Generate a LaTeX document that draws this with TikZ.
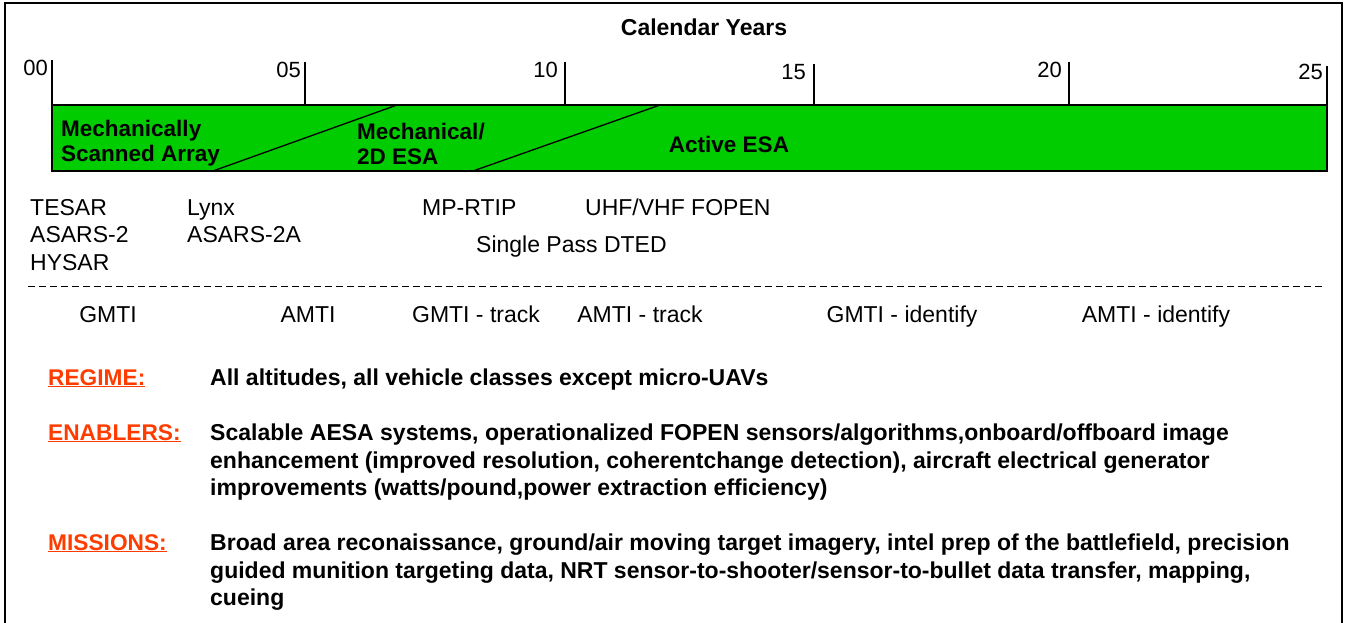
\documentclass[tikz,border=0pt]{standalone}
\usepackage{fontspec}
\setmainfont{Liberation Sans}
\definecolor{bargreen}{RGB}{0,204,0}
\definecolor{capred}{RGB}{255,60,0}
\tikzstyle{lbl}=[inner sep=0pt, font=\fontsize{23}{27}\selectfont]
\tikzstyle{yr}=[inner sep=0pt, font=\fontsize{22}{27}\selectfont, anchor=base east]
\tikzstyle{txt}=[lbl, anchor=base west]
\tikzstyle{act}=[lbl, anchor=base]
\tikzstyle{bartxt}=[inner sep=0pt, font=\bfseries\fontsize{22.5}{25}\selectfont, align=left, anchor=north west]
\tikzstyle{body}=[inner sep=0pt, font=\bfseries\fontsize{23}{27.5}\selectfont, align=left, anchor=north west]
\tikzstyle{head}=[inner sep=0pt, font=\bfseries\fontsize{22.7}{27}\selectfont, text=capred, anchor=north west]
\tikzstyle{yrtick}=[line width=1.3pt]

\begin{document}
\begin{tikzpicture}[x=1pt, y=-1pt]
  \useasboundingbox (0,0) rectangle (1348,623);
  % frame, open at the bottom
  \draw[line width=2pt] (5,623) -- (5,3) -- (1342,3) -- (1342,623);
  \node[inner sep=0pt, font=\bfseries\fontsize{23}{24}\selectfont, anchor=base] (title) at (704,36) {Calendar Years};

  % time axis
  \draw[yrtick] (52,60) -- (52,105);
  \draw[yrtick] (305,62) -- (305,105);
  \draw[yrtick] (565,62) -- (565,105);
  \draw[yrtick] (814,64) -- (814,105);
  \draw[yrtick] (1069,62) -- (1069,105);
  \draw[yrtick] (1327,66) -- (1327,105);
  \node[yr] (y00) at (48,76) {00};
  \node[yr] (y05) at (301,78) {05};
  \node[yr] (y10) at (558,78) {10};
  \node[yr] (y15) at (806,80) {15};
  \node[yr] (y20) at (1062,78) {20};
  \node[yr] (y25) at (1323,80) {25};

  % technology bar
  \draw[yrtick, fill=bargreen] (52,105) rectangle (1327,171);
  \draw[yrtick] (213,171) -- (397,105);
  \draw[yrtick] (473,171) -- (660,105);
  \node[bartxt] (msa) at (61,120) {Mechanically\\Scanned Array};
  \node[bartxt] (mesa) at (357,123) {Mechanical/\\2D ESA};
  \node[inner sep=0pt, font=\bfseries\fontsize{22.5}{25}\selectfont, anchor=base] (aesa) at (729,152) {Active ESA};

  % systems
  \node[txt] (tesar) at (30,215) {TESAR};
  \node[txt] (asars2) at (30,242) {ASARS-2};
  \node[txt] (hysar) at (30,270) {HYSAR};
  \node[txt] (lynx) at (187,215) {Lynx};
  \node[txt] (asars2a) at (187,242) {ASARS-2A};
  \node[txt] (mprtip) at (422,215) {MP-RTIP};
  \node[txt] (fopen) at (585,215) {UHF/VHF FOPEN};
  \node[txt] (dted) at (476,252) {Single Pass DTED};

  \draw[line width=1pt, dash pattern=on 7pt off 4pt] (28,286) -- (1322,286);

  % capabilities
  \node[act] (gmti) at (108,322) {GMTI};
  \node[act] (amti) at (308,322) {AMTI};
  \node[act] (gmtit) at (476,322) {GMTI - track};
  \node[act] (amtit) at (640,322) {AMTI - track};
  \node[act] (gmtii) at (902,322) {GMTI - identify};
  \node[act] (amtii) at (1156,322) {AMTI - identify};

  % regime, enablers, missions
  \node[head] (regime) at (48,369) {\underline{REGIME:}};
  \node[body] (regimetxt) at (210,369) {All altitudes, all vehicle classes except micro-UAVs};
  \node[head] (enablers) at (48,424) {\underline{ENABLERS:}};
  \node[body] (enablerstxt) at (210,424) {Scalable AESA systems, operationalized FOPEN sensors/algorithms,onboard/offboard image\\enhancement (improved resolution, coherentchange detection), aircraft electrical generator\\improvements (watts/pound,power extraction efficiency)};
  \node[head] (missions) at (48,534) {\underline{MISSIONS:}};
  \node[body] (missionstxt) at (210,534) {Broad area reconaissance, ground/air moving target imagery, intel prep of the battlefield, precision\\guided munition targeting data, NRT sensor-to-shooter/sensor-to-bullet data transfer, mapping,\\cueing};
\end{tikzpicture}
\end{document}
